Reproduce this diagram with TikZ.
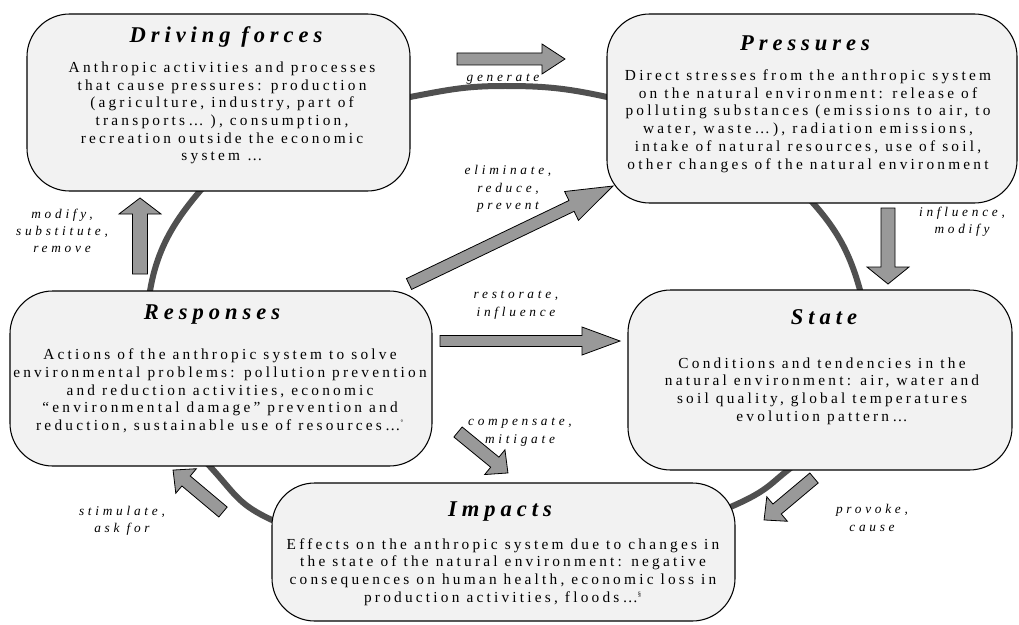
\documentclass[tikz,border=0pt]{standalone}
\usepackage{fontspec}
\setmainfont{Liberation Serif}
\newfontfamily\bodyfont{Liberation Serif}[LetterSpace=21]
\newfontfamily\titlefont{Liberation Serif}[LetterSpace=22]
\newfontfamily\labelfont{Liberation Serif}[LetterSpace=28]
\usetikzlibrary{fit,calc}
\definecolor{boxfill}{HTML}{F2F2F2}
\definecolor{arrfill}{HTML}{999999}
\definecolor{ringcol}{HTML}{505050}
\tikzset{
 box/.style={draw=black, line width=0.8pt, fill=boxfill, rounded corners=32pt, inner sep=0pt},
 boxtitle/.style={font=\titlefont\bfseries\itshape\fontsize{16.9}{18}\selectfont, inner sep=0pt},
 boxbody/.style={font=\bodyfont\fontsize{11.5}{13.3}\selectfont, align=center, inner sep=0pt},
 lab/.style={font=\labelfont\itshape\fontsize{10}{13}\selectfont, align=center, inner sep=0pt},
 fatarrow/.style={draw=black, line width=0.6pt, fill=arrfill, line join=miter},
 ring/.style={draw=ringcol, line width=4.5pt},
}
\newcommand\fatarrow[5]{%
  \pgfpointdiff{\pgfpointanchor{#1}{center}}{\pgfpointanchor{#2}{center}}%
  \pgfgetlastxy\fdx\fdy
  \pgfmathsetmacro\fang{atan2(\fdy,\fdx)}%
  \pgfmathsetmacro\flen{veclen(\fdx,\fdy)}%
  \pgfmathsetmacro\fs{#3*0.75}%
  \pgfmathsetmacro\fh{#4*0.75}%
  \pgfmathsetmacro\fl{\flen-#5*0.75}%
  \draw[fatarrow,shift={(#1)},rotate=\fang,x=1pt,y=1pt] (0,-\fs) -- (\fl,-\fs) -- (\fl,-\fh) -- (\flen,0) -- (\fl,\fh) -- (\fl,\fs) -- (0,\fs) -- cycle;
}
\begin{document}
\begin{tikzpicture}[x=0.75pt,y=-0.75pt]
\fill[white] (0,0) rectangle (1019,624);
\useasboundingbox (0,0) rectangle (1019,624);
% ring
\draw[ring] plot[smooth cycle, tension=0.7] coordinates {(505,86) (607,97) (720,133) (813,203) (860,290) (860,370) (825,435) (788,470) (735,505) (620,545) (500,555) (380,548) (272,520) (215,472) (165,400) (150,291) (200,191) (290,127) (410,97)};
% boxes
\node[box, fit={(27,14) (410,191)}] (df) {};
\node[box, fit={(607,14) (1017,203)}] (pr) {};
\node[box, fit={(10,291) (432,466)}] (re) {};
\node[box, fit={(628,290) (1012,470)}] (st) {};
\node[box, fit={(272,483) (735,621)}] (im) {};
% box texts
\node[boxtitle] (dft) at (226,37) {Driving forces};
\node[boxbody] (dfb) at (222,113) {Anthropic activities and processes\\that cause pressures: production\\(agriculture, industry, part of\\transports… ), consumption,\\recreation outside the economic\\system …};
\node[boxtitle] (prt) at (805,43) {Pressures};
\node[boxbody] (prb) at (808,121) {Direct stresses from the anthropic system\\on the natural environment: release of\\polluting substances (emissions to air, to\\water, waste…), radiation emissions,\\intake of natural resources, use of soil,\\other changes of the natural environment};
\node[boxtitle] (ret) at (212,315) {Responses};
\node[boxbody] (reb) at (220,391) {Actions of the anthropic system to solve\\environmental problems: pollution prevention\\and reduction activities, economic\\“environmental damage” prevention and\\reduction, sustainable use of resources…\textsuperscript{\tiny °}};
\node[boxtitle] (stt) at (824,317) {State};
\node[boxbody] (stb) at (822,391) {Conditions and tendencies in the\\natural environment: air, water and\\soil quality, global temperatures\\evolution pattern…};
\node[boxtitle] (imt) at (500,512) {Impacts};
\node[boxbody] (imb) at (503,572) {Effects on the anthropic system due to changes in\\the state of the natural environment: negative\\consequences on human health, economic loss in\\production activities, floods…\textsuperscript{\tiny §}};
% arrow end points
\coordinate (gT) at (457,59); \coordinate (gH) at (565,59);
\coordinate (mT) at (140,274); \coordinate (mH) at (140,198);
\coordinate (eT) at (409,284); \coordinate (eH) at (613,186);
\coordinate (iT) at (888,208); \coordinate (iH) at (888,284);
\coordinate (rT) at (440,341); \coordinate (rH) at (620,341);
\coordinate (cT) at (458,432); \coordinate (cH) at (508,473);
\coordinate (pT) at (814,478); \coordinate (pH) at (764,520);
\coordinate (sT) at (223,512); \coordinate (sH) at (173,470);
\fatarrow{gT}{gH}{6}{15}{23}
\fatarrow{mT}{mH}{7.5}{21}{16}
\fatarrow{eT}{eH}{6}{16}{46}
\fatarrow{iT}{iH}{7}{21}{17}
\fatarrow{rT}{rH}{5.5}{14}{38}
\fatarrow{cT}{cH}{6.5}{16}{17}
\fatarrow{pT}{pH}{6.5}{16}{17}
\fatarrow{sT}{sH}{6.5}{16}{17}
% labels
\node[lab] (lg) at (503,79) {generate};
\node[lab] (le) at (508,189) {eliminate,\\reduce,\\prevent};
\node[lab] (lm) at (62,231) {modify,\\substitute,\\remove};
\node[lab] (li) at (962,222) {influence,\\modify};
\node[lab] (lr) at (516,305) {restorate,\\influence};
\node[lab] (lc) at (520,432) {compensate,\\mitigate};
\node[lab] (lp) at (872,518) {provoke,\\cause};
\node[lab] (ls) at (122,521) {stimulate,\\ask for};
\end{tikzpicture}
\end{document}
